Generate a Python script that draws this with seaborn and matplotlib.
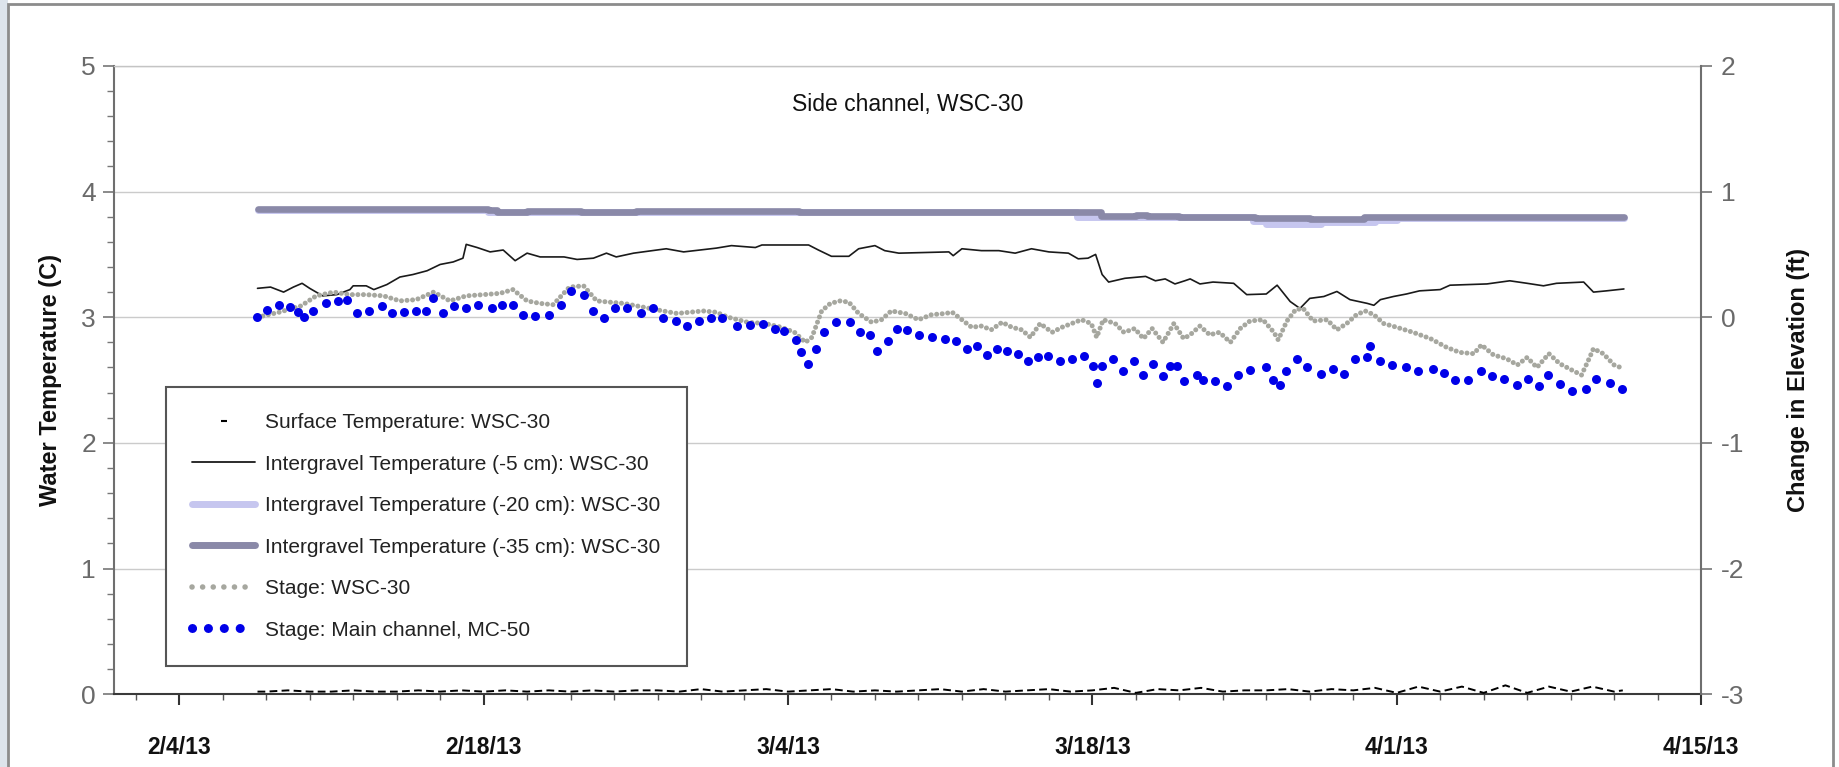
import numpy as np
import pandas as pd
import matplotlib
matplotlib.use("Agg")
import matplotlib.pyplot as plt
from matplotlib.lines import Line2D
from matplotlib.patches import Rectangle
from matplotlib.ticker import MultipleLocator
import seaborn as sns

# ---------------------------------------------------------------- data
# Time is given as days after 2013-02-01.
T0 = pd.Timestamp("2013-02-01")

# Stage at main channel MC-50 (ft, change in elevation)
mc50_day = [6.59, 7.02, 7.59, 8.10, 8.48, 8.76, 9.17, 9.75, 10.31, 10.73,
            11.19, 11.73, 12.34, 12.77, 13.34, 13.88, 14.34, 14.69, 15.11, 15.64,
            16.18, 16.73, 17.40, 17.83, 18.34, 18.80, 19.37, 20.01, 20.55, 21.00,
            21.64, 22.02, 22.54, 23.04, 23.58, 24.22, 24.78, 25.27, 25.85, 26.34,
            26.92, 27.46, 27.98, 28.64, 29.26, 29.87, 30.40, 30.83, 31.36, 31.60,
            31.94, 32.29, 32.66, 33.21, 33.85, 34.31, 34.77, 35.08, 35.58, 36.00,
            36.49, 37.04, 37.61, 38.22, 38.73, 39.22, 39.71, 40.14, 40.60, 41.09,
            41.57, 42.03, 42.49, 42.95, 43.51, 44.05, 44.63, 45.05, 45.20, 45.43,
            45.93, 46.42, 46.93, 47.31, 47.80, 48.26, 48.57, 48.88, 49.23, 49.83,
            50.11, 50.64, 51.18, 51.71, 52.25, 52.99, 53.33, 53.63, 53.91, 54.43,
            54.89, 55.50, 56.09, 56.58, 57.06, 57.65, 57.77, 58.23, 58.80, 59.41,
            59.99, 60.68, 61.19, 61.68, 62.29, 62.88, 63.40, 63.93, 64.52, 65.05,
            65.55, 65.98, 66.51, 67.05, 67.71, 68.17, 68.81, 69.35]
mc50_stage = [0.00, 0.06, 0.10, 0.08, 0.04, 0.00, 0.05, 0.11, 0.13, 0.14,
              0.03, 0.05, 0.09, 0.03, 0.04, 0.05, 0.05, 0.15, 0.03, 0.09,
              0.07, 0.10, 0.07, 0.10, 0.10, 0.02, 0.01, 0.02, 0.10, 0.21,
              0.18, 0.05, -0.01, 0.07, 0.07, 0.03, 0.07, -0.01, -0.03, -0.07,
              -0.03, -0.01, -0.01, -0.07, -0.06, -0.05, -0.09, -0.11, -0.18, -0.28,
              -0.37, -0.25, -0.12, -0.04, -0.04, -0.12, -0.14, -0.27, -0.19, -0.09,
              -0.10, -0.14, -0.16, -0.17, -0.19, -0.25, -0.23, -0.30, -0.25, -0.27,
              -0.29, -0.35, -0.32, -0.31, -0.35, -0.33, -0.31, -0.39, -0.52, -0.39,
              -0.33, -0.43, -0.35, -0.46, -0.37, -0.47, -0.39, -0.39, -0.51, -0.46,
              -0.50, -0.51, -0.55, -0.46, -0.42, -0.40, -0.50, -0.54, -0.43, -0.33,
              -0.40, -0.45, -0.41, -0.45, -0.33, -0.32, -0.23, -0.35, -0.38, -0.40,
              -0.43, -0.41, -0.44, -0.50, -0.50, -0.43, -0.47, -0.49, -0.54, -0.49,
              -0.55, -0.46, -0.53, -0.59, -0.57, -0.49, -0.52, -0.57]

# Stage at WSC-30 (ft, change in elevation)
wsc_day = [6.6, 7.6, 8.6, 9.3, 10.1, 10.85, 11.6, 12.4, 13.15, 13.9,
           14.7, 15.45, 16.2, 17.0, 17.75, 18.35, 19.0, 19.6, 20.2, 20.95,
           21.6, 22.2, 22.8, 23.45, 24.05, 24.65, 25.25, 25.9, 26.5, 27.1,
           27.7, 28.25, 29.15, 29.95, 30.7, 31.3, 31.8, 32.1, 32.55, 32.95,
           33.4, 33.8, 34.25, 34.85, 35.3, 35.75, 36.4, 37.0, 37.6, 38.25,
           38.55, 39.0, 39.45, 39.9, 40.35, 40.85, 41.3, 41.75, 42.15, 42.6,
           43.15, 43.6, 44.05, 44.5, 44.95, 45.2, 45.5, 46.05, 46.45, 46.95,
           47.35, 47.75, 48.25, 48.75, 49.2, 49.5, 49.95, 50.4, 50.85, 51.35,
           51.8, 52.25, 52.85, 53.35, 53.55, 53.95, 54.35, 54.7, 55.15, 55.8,
           56.25, 56.7, 57.15, 57.55, 57.95, 58.4, 59.0, 59.75, 60.55, 61.3,
           61.9, 62.55, 62.9, 63.45, 64.05, 64.55, 65.0, 65.45, 66.0, 66.5,
           67.05, 67.5, 67.85, 68.05, 68.5, 69.0, 69.45]
wsc_stage = [0.00, 0.04, 0.09, 0.17, 0.20, 0.18, 0.18, 0.17, 0.13, 0.14,
             0.20, 0.13, 0.17, 0.18, 0.19, 0.22, 0.13, 0.11, 0.10, 0.24,
             0.25, 0.13, 0.12, 0.11, 0.09, 0.07, 0.05, 0.03, 0.04, 0.05,
             0.04, 0.00, -0.04, -0.05, -0.08, -0.12, -0.20, -0.16, 0.05, 0.11,
             0.13, 0.12, 0.03, -0.04, -0.02, 0.05, 0.03, -0.02, 0.02, 0.03,
             0.04, -0.02, -0.08, -0.07, -0.10, -0.04, -0.08, -0.10, -0.16, -0.05,
             -0.12, -0.08, -0.05, -0.02, -0.05, -0.16, -0.02, -0.05, -0.12, -0.09,
             -0.17, -0.09, -0.20, -0.05, -0.17, -0.14, -0.07, -0.14, -0.12, -0.20,
             -0.09, -0.03, -0.02, -0.12, -0.18, -0.03, 0.06, 0.07, -0.03, -0.02,
             -0.10, -0.05, 0.02, 0.05, 0.02, -0.05, -0.08, -0.12, -0.17, -0.24,
             -0.28, -0.29, -0.22, -0.30, -0.33, -0.38, -0.32, -0.40, -0.29, -0.37,
             -0.42, -0.46, -0.33, -0.25, -0.29, -0.38, -0.41]

# Intergravel temperature, -5 cm (deg C)
ig5_day = [6.6, 7.2, 7.8, 8.25, 8.65, 9.0, 9.6, 10.25, 10.85, 11.0,
           11.6, 11.95, 12.55, 13.15, 13.75, 14.4, 15.0, 15.6, 16.05, 16.2,
           16.7, 17.3, 17.9, 18.45, 19.0, 19.6, 20.7, 21.3, 22.05, 22.65,
           23.1, 23.9, 25.4, 26.2, 26.95, 27.7, 28.4, 29.5, 29.8, 31.95,
           32.4, 33.0, 33.8, 34.25, 35.0, 35.45, 36.1, 38.4, 38.6, 39.0,
           39.9, 40.7, 41.45, 42.2, 43.0, 43.9, 44.35, 44.8, 45.15, 45.45,
           45.75, 46.5, 47.45, 47.9, 48.35, 48.8, 49.25, 49.5, 49.95, 50.55,
           51.5, 52.1, 53.0, 53.5, 54.1, 54.55, 55.0, 55.65, 56.25, 56.85,
           57.65, 57.95, 58.25, 58.85, 59.45, 60.05, 61.0, 61.45, 63.15, 64.2,
           65.0, 65.75, 66.35, 67.6, 68.05, 68.65, 69.45]
ig5_temp = [3.23, 3.24, 3.20, 3.24, 3.27, 3.23, 3.17, 3.18, 3.22, 3.25,
            3.25, 3.22, 3.26, 3.32, 3.34, 3.37, 3.42, 3.44, 3.47, 3.58,
            3.555, 3.52, 3.535, 3.45, 3.51, 3.48, 3.48, 3.46, 3.47, 3.51,
            3.48, 3.51, 3.545, 3.52, 3.535, 3.55, 3.57, 3.555, 3.575, 3.575,
            3.535, 3.485, 3.485, 3.545, 3.57, 3.53, 3.51, 3.52, 3.49, 3.545,
            3.53, 3.53, 3.51, 3.545, 3.52, 3.51, 3.465, 3.47, 3.50, 3.34,
            3.28, 3.31, 3.325, 3.29, 3.305, 3.265, 3.29, 3.305, 3.265, 3.28,
            3.27, 3.18, 3.185, 3.255, 3.125, 3.07, 3.15, 3.165, 3.205, 3.14,
            3.11, 3.095, 3.14, 3.165, 3.185, 3.21, 3.22, 3.255, 3.265, 3.29,
            3.27, 3.25, 3.27, 3.28, 3.20, 3.21, 3.225]

# Intergravel temperature, -20 cm (deg C)
ig20_day = [6.6, 17.2, 24.0, 30.0, 44.3, 45.4, 52.4, 53.0, 55.5, 58.0, 59.0, 69.45]
ig20_temp = [3.855, 3.84, 3.835, 3.84, 3.795, 3.795, 3.765, 3.745, 3.755, 3.77, 3.79, 3.79]

# Intergravel temperature, -35 cm (deg C)
ig35_day = [6.6, 17.2, 17.6, 19.0, 21.5, 24.0, 29.5, 31.5, 45.1, 45.4,
            47.0, 47.5, 49.0, 52.5, 55.0, 57.5, 59.0, 69.45]
ig35_temp = [3.865, 3.85, 3.84, 3.845, 3.84, 3.845, 3.845, 3.84, 3.84, 3.805,
             3.81, 3.805, 3.80, 3.79, 3.785, 3.795, 3.80, 3.80]

# Surface temperature (deg C), daily
surf_day = [6.6] + list(range(7, 70)) + [69.4]
surf_temp = [0.02,
             0.02, 0.03, 0.02, 0.02, 0.03, 0.02, 0.02, 0.03, 0.02, 0.03,
             0.02, 0.03, 0.02, 0.03, 0.02, 0.03, 0.02, 0.03, 0.03, 0.02,
             0.04, 0.02, 0.03, 0.04, 0.02, 0.03, 0.04, 0.02, 0.03, 0.02,
             0.03, 0.04, 0.02, 0.04, 0.02, 0.03, 0.04, 0.02, 0.03, 0.05,
             0.01, 0.04, 0.03, 0.05, 0.02, 0.03, 0.03, 0.04, 0.02, 0.04,
             0.03, 0.05, 0.01, 0.06, 0.02, 0.06, 0.01, 0.07, 0.01, 0.06,
             0.02, 0.06, 0.02,
             0.03]

# Axis labels and tick dates
x_major = ["2013-02-04", "2013-02-18", "2013-03-04", "2013-03-18", "2013-04-01", "2013-04-15"]
x_major_labels = ["2/4/13", "2/18/13", "3/4/13", "3/18/13", "4/1/13", "4/15/13"]
legend_labels = ["Surface Temperature: WSC-30",
                 "Intergravel Temperature (-5 cm): WSC-30",
                 "Intergravel Temperature (-20 cm): WSC-30",
                 "Intergravel Temperature (-35 cm): WSC-30",
                 "Stage: WSC-30",
                 "Stage: Main channel, MC-50"]


def to_dates(days):
    return T0 + pd.to_timedelta(np.asarray(days, dtype=float), unit="D")


# ---------------------------------------------------------------- style
sns.set_theme(style="white")
plt.rcParams["font.family"] = ["Liberation Sans", "DejaVu Sans"]
plt.rcParams["axes.unicode_minus"] = False

C_BLUE = "#0000e8"
C_STAGE = "#a6a79f"
C_IG5 = "#1a1a1a"
C_IG20 = "#c6c6ef"
C_IG35 = "#8a89a8"

fig = plt.figure(figsize=(18.39, 7.67), dpi=100)
ax = fig.add_axes([0.062, 0.095, 0.863, 0.819])
ax2 = ax.twinx()

# ---------------------------------------------------------------- temperatures (left axis)
sns.lineplot(x=to_dates(surf_day), y=surf_temp, ax=ax, color="black", lw=1.4,
             linestyle=(0, (4, 2.2)), estimator=None, zorder=3)
sns.lineplot(x=to_dates(ig20_day), y=ig20_temp, ax=ax, color=C_IG20, lw=5,
             drawstyle="steps-post", estimator=None, zorder=3)
sns.lineplot(x=to_dates(ig35_day), y=ig35_temp, ax=ax, color=C_IG35, lw=4.8,
             drawstyle="steps-post", estimator=None, zorder=4)
sns.lineplot(x=to_dates(ig5_day), y=ig5_temp, ax=ax, color=C_IG5, lw=1.2,
             estimator=None, zorder=5)

# ---------------------------------------------------------------- stages (right axis)
sns.lineplot(x=to_dates(wsc_day), y=wsc_stage, ax=ax2, color=C_STAGE, lw=3.6,
             linestyle=(0, (0.01, 1.1)), dash_capstyle="round",
             estimator=None, zorder=2)
sns.scatterplot(x=to_dates(mc50_day), y=mc50_stage, ax=ax2, color=C_BLUE,
                s=42, linewidth=0, zorder=3)

# ---------------------------------------------------------------- axes
ax.set_xlim(pd.Timestamp("2013-02-01"), pd.Timestamp("2013-04-15"))
ax.set_ylim(0, 5)
ax2.set_ylim(-3, 2)

ax.yaxis.set_major_locator(MultipleLocator(1))
ax.yaxis.set_minor_locator(MultipleLocator(0.2))
ax2.yaxis.set_major_locator(MultipleLocator(1))

ax.set_xticks(pd.to_datetime(x_major))
ax.set_xticklabels(x_major_labels, fontweight="bold", fontsize=16.5, color="#111111")
ax.set_xticks(pd.date_range("2013-02-02", "2013-04-14", freq="2D"), minor=True)

ax.tick_params(axis="x", which="major", direction="out", length=8, width=1.5,
               color="#333333", pad=22, bottom=True)
ax.tick_params(axis="x", which="minor", direction="out", length=4, width=1.0,
               color="#555555", bottom=True)
ax.tick_params(axis="y", which="major", direction="out", length=8, width=1.2,
               color="#777777", labelsize=19, labelcolor="#6a6a6a", pad=5, left=True)
ax.tick_params(axis="y", which="minor", direction="out", length=5, width=1.0,
               color="#777777", left=True)
ax2.tick_params(axis="y", which="major", direction="out", length=8, width=1.2,
                color="#777777", labelsize=19, labelcolor="#6a6a6a", pad=6, right=True)

ax.grid(False)
ax2.grid(False)
ax.yaxis.grid(True, which="major", color="#cbcbcb", lw=1.0)

for side, sp in ax.spines.items():
    sp.set_visible(True)
ax.spines["left"].set_color("#6f6f6f")
ax.spines["left"].set_linewidth(1.5)
ax.spines["bottom"].set_color("#3a3a3a")
ax.spines["bottom"].set_linewidth(1.5)
ax.spines["top"].set_color("#c4c4c4")
ax.spines["top"].set_linewidth(1.0)
ax.spines["right"].set_visible(False)
for side in ["left", "top", "bottom"]:
    ax2.spines[side].set_visible(False)
ax2.spines["right"].set_visible(True)
ax2.spines["right"].set_color("#6f6f6f")
ax2.spines["right"].set_linewidth(1.5)

ax.set_ylabel("Water Temperature (C)", fontsize=17, fontweight="bold", color="#111111")
ax.yaxis.set_label_coords(-0.033, 0.5)
ax2.set_ylabel("Change in Elevation (ft)", fontsize=17, fontweight="bold",
               color="#111111", rotation=90)
ax2.yaxis.set_label_coords(1.054, 0.5)
ax.set_xlabel("")
ax2.set_xlabel("")

ax.text(0.5, 0.938, "Side channel, WSC-30", transform=ax.transAxes,
        ha="center", va="center", fontsize=16.5, color="#111111")

# ---------------------------------------------------------------- legend
handles = [
    Line2D([], [], color="black", marker="_", ls="", markersize=5, mew=1.5),
    Line2D([], [], color=C_IG5, lw=1.3),
    Line2D([], [], color=C_IG20, lw=5),
    Line2D([], [], color=C_IG35, lw=5),
    Line2D([], [], color=C_STAGE, lw=4, ls=(0, (0.01, 1.9)), dash_capstyle="round"),
    Line2D([], [], color=C_BLUE, lw=6.5, ls=(0, (0.01, 1.75)), dash_capstyle="round"),
]
leg = ax2.legend(handles, legend_labels, loc="upper left",
                 bbox_to_anchor=(0.033, 0.489), borderaxespad=0,
                 fontsize=15, frameon=True, fancybox=False, framealpha=1,
                 edgecolor="#555555", handlelength=3.0, handletextpad=0.5,
                 labelspacing=1.08, borderpad=1.25, numpoints=1, labelcolor="#222222")
leg.get_frame().set_linewidth(1.5)
leg.set_zorder(10)

# ---------------------------------------------------------------- outer frame
fig.patches.append(Rectangle((0, 0), 0.0045, 1, transform=fig.transFigure,
                             facecolor="#dde4ec", edgecolor="none", zorder=0))
fig.patches.append(Rectangle((0.0045, -0.02), 0.9925, 1.015, transform=fig.transFigure,
                             fill=False, edgecolor="#8c8c8c", lw=2, zorder=0))

fig.savefig("out.png", dpi=100)
